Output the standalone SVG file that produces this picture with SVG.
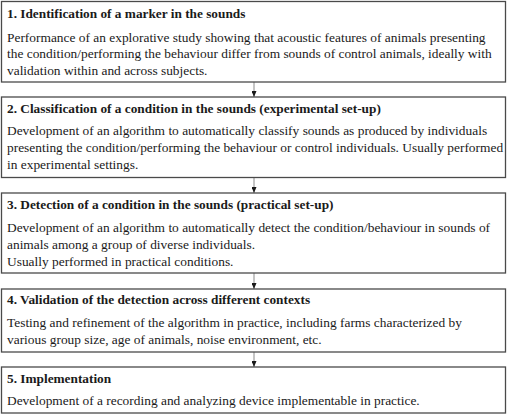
<svg xmlns="http://www.w3.org/2000/svg" width="508" height="415" viewBox="0 0 508 415">
<defs>
<style>
.box{fill:#fff;stroke:#4a4a4a;stroke-width:1.3}
.t{font-family:"Liberation Serif","Times New Roman",serif;font-size:13.3px;font-weight:bold;fill:#1a1a1a}
.b{font-family:"Liberation Serif","Times New Roman",serif;font-size:13.4px;fill:#1a1a1a}
.c{stroke:#8a8a8a;stroke-width:1;fill:none}
</style>
<marker id="ah" markerWidth="6" markerHeight="5" refX="6" refY="2.5" orient="auto" markerUnits="userSpaceOnUse">
<path d="M0,0 L6,2.5 L0,5 Z" fill="#1a1a1a"/>
</marker>
</defs>
<rect width="508" height="415" fill="#fff"/>
<g id="connectors">
<line class="c" x1="254" y1="82" x2="254" y2="97" marker-end="url(#ah)"/>
<line class="c" x1="254" y1="177.5" x2="254" y2="193" marker-end="url(#ah)"/>
<line class="c" x1="254" y1="273" x2="254" y2="289" marker-end="url(#ah)"/>
<line class="c" x1="254" y1="352" x2="254" y2="367" marker-end="url(#ah)"/>
</g>
<g id="node1">
<rect class="box" x="1.5" y="1.5" width="504" height="80.5"/>
<text class="t" x="7" y="17.5">1. Identification of a marker in the sounds</text>
<text class="b" x="7" y="41.5">Performance of an explorative study showing that acoustic features of animals presenting</text>
<text class="b" x="7" y="58.3">the condition/performing the behaviour differ from sounds of control animals, ideally with</text>
<text class="b" x="7" y="75">validation within and across subjects.</text>
</g>
<g id="node2">
<rect class="box" x="1.5" y="97" width="504" height="80.5"/>
<text class="t" x="7" y="113">2. Classification of a condition in the sounds (experimental set-up)</text>
<text class="b" x="7" y="135">Development of an algorithm to automatically classify sounds as produced by individuals</text>
<text class="b" x="7" y="152">presenting the condition/performing the behaviour or control individuals. Usually performed</text>
<text class="b" x="7" y="169">in experimental settings.</text>
</g>
<g id="node3">
<rect class="box" x="1.5" y="193" width="504" height="80"/>
<text class="t" x="7" y="209">3. Detection of a condition in the sounds (practical set-up)</text>
<text class="b" x="7" y="232">Development of an algorithm to automatically detect the condition/behaviour in sounds of</text>
<text class="b" x="7" y="249">animals among a group of diverse individuals.</text>
<text class="b" x="7" y="266.3">Usually performed in practical conditions.</text>
</g>
<g id="node4">
<rect class="box" x="1.5" y="289" width="504" height="63"/>
<text class="t" x="7" y="304">4. Validation of the detection across different contexts</text>
<text class="b" x="7" y="326.5">Testing and refinement of the algorithm in practice, including farms characterized by</text>
<text class="b" x="7" y="343.5">various group size, age of animals, noise environment, etc.</text>
</g>
<g id="node5">
<rect class="box" x="1.5" y="367" width="504" height="46"/>
<text class="t" x="7" y="383">5. Implementation</text>
<text class="b" x="7" y="405">Development of a recording and analyzing device implementable in practice.</text>
</g>
</svg>
